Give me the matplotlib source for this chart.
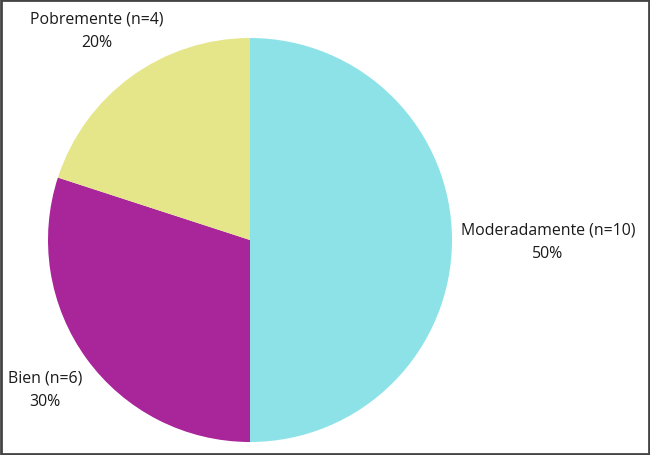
import matplotlib.pyplot as plt
from matplotlib.patches import Rectangle

plt.rcParams['font.family'] = ['Open Sans', 'DejaVu Sans']

# Data
categories = ['Moderadamente', 'Bien', 'Pobremente']
counts = [10, 6, 4]
colors = ['#8DE2E7', '#A8259A', '#E5E68A']

fig = plt.figure(figsize=(6.5, 4.56), dpi=100)
ax = fig.add_axes([48 / 650, 13 / 456, 404 / 650, 404 / 456])

wedges, _ = ax.pie(counts, colors=colors, startangle=90, counterclock=False,
                   radius=1, wedgeprops=dict(linewidth=0))
ax.set_xlim(-1, 1)
ax.set_ylim(-1, 1)
ax.set_aspect('equal')

total = sum(counts)
label_pos = [(1.475, -0.005), (-1.015, -0.74), (-0.757, 1.04)]
for name, n, (x, y) in zip(categories, counts, label_pos):
    ax.text(x, y, f'{name} (n={n})\n{round(100 * n / total)}%',
            ha='center', va='center', fontsize=11.4, color='#1a1a1a',
            linespacing=1.6, clip_on=False)

# frame around the whole figure
fig.patches.append(Rectangle((0.002, 0.003), 0.996, 0.994, transform=fig.transFigure,
                             fill=False, edgecolor='#444444', linewidth=2))

fig.savefig('out.png', dpi=100)
